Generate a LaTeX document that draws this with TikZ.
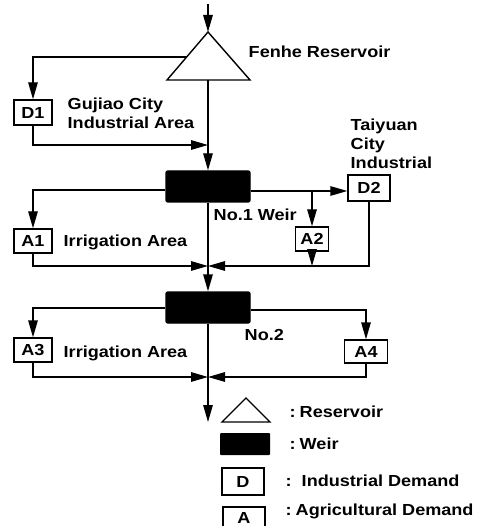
\documentclass[tikz,border=0pt]{standalone}
\usepackage{fontspec}
\setmainfont{Liberation Sans}[FakeStretch=1.13]
\usetikzlibrary{arrows.meta}
\begin{document}
\begin{tikzpicture}[x=1pt,y=-1pt,
  line width=1.4pt,
  arr/.style={-{Triangle[length=17pt,width=9.5pt]}},
  box/.style={draw,line width=1.4pt,inner sep=0pt,font=\bfseries\fontsize{16}{18}\selectfont},
  weir/.style={fill=black,draw=black,rounded corners=2pt,minimum width=84pt,minimum height=31pt,inner sep=0pt},
  lbl/.style={font=\bfseries\fontsize{16}{19}\selectfont,inner sep=0pt,anchor=west,align=left},
  leg/.style={font=\bfseries\fontsize{16}{19}\selectfont,inner sep=0pt,anchor=west}]
\useasboundingbox (0,0) rectangle (479,526);

% reservoir
\coordinate (src) at (208,4);
\coordinate (apex) at (208,32);
\coordinate (bl) at (167,80);
\coordinate (br) at (250,80);
\coordinate (bc) at (208,80);
\coordinate (tl) at (187,57);
\draw[line join=miter] (apex) -- (bl) -- (br) -- cycle;
\draw[arr] (src) -- (apex);

% boxes
\node[box,minimum width=38pt,minimum height=25pt] (D1) at (33,112.5) {D1};
\node[box,minimum width=38pt,minimum height=24pt] (A1) at (33,241) {A1};
\node[box,minimum width=38pt,minimum height=24pt] (A3) at (33,350) {A3};
\node[box,minimum width=42pt,minimum height=26pt] (D2) at (369,188) {D2};
\node[box,minimum width=33pt,minimum height=24pt] (A2) at (312,239) {A2};
\node[box,minimum width=43pt,minimum height=23pt] (A4) at (366,351.5) {A4};

% weirs
\node[weir] (W1) at (208,186.5) {};
\node[weir] (W2) at (208,307.5) {};

% junctions
\coordinate (J1) at (208,266);
\coordinate (J2) at (208,377);
\coordinate (out) at (208,422);
\coordinate (B2) at (312,191);

% connectors upper
\draw[arr] (tl) -| (D1.north);
\draw[arr] (D1.south) |- (J1 |- 0,145);
\draw[arr] (bc) -- (W1.north);
\draw[arr] ([yshift=-3.5pt]W1.west) -| (A1.north);
\draw[arr] (A1.south) |- (J1);
\draw (W1.south) -- (J1);
\draw[arr] (J1) -- (W2.north);
\draw[arr] ([yshift=-4.5pt]W1.east) -- (D2.west |- B2);
\draw[arr] (B2) -- (A2.north);
\draw[arr] (A2.south) -- (A2 |- J1);
\draw[arr] (D2.south) |- (J1);

% connectors lower
\draw[arr] ([yshift=-0.5pt]W2.west) -| (A3.north);
\draw[arr] (A3.south) |- (J2);
\draw[arr] ([yshift=-2.5pt]W2.east) -| (A4.north);
\draw[arr] (A4.south) |- (J2);
\draw[arr] (W2.south) -- (out);

% labels
\node[lbl] (tFen) at (248,52) {Fenhe Reservoir};
\node[lbl] (tGuj) at (67,113) {Gujiao City\\Industrial Area};
\node[lbl,align=left] (tTai) at (350,144) {Taiyuan\\City\\Industrial};
\node[lbl] (tNo1) at (213,215) {No.1 Weir};
\node[lbl] (tIrr1) at (63,242) {Irrigation Area};
\node[lbl] (tNo2) at (244,335) {No.2};
\node[lbl] (tIrr2) at (63,353) {Irrigation Area};

% legend
\coordinate (la) at (246,398);
\coordinate (lb) at (222,422);
\coordinate (lc) at (270,422);
\draw[line join=miter] (la) -- (lb) -- (lc) -- cycle;
\node[fill=black,rounded corners=1pt,minimum width=50pt,minimum height=22pt,inner sep=0pt] (lw) at (245,444) {};
\node[box,minimum width=42pt,minimum height=27pt] (ld) at (243,481.5) {D};
\draw (223,527) |- (265,507) -- (265,527);
\node[font=\bfseries\fontsize{16}{18}\selectfont,inner sep=0pt] (lA) at (244,518) {A};
\node[leg] (tR) at (289,412) {:\hspace{4pt}Reservoir};
\node[leg] (tW) at (289,444) {:\hspace{4pt}Weir};
\node[leg] (tD) at (285,481) {:\hspace{10pt}Industrial Demand};
\node[leg] (tA) at (285,511) {:\hspace{4pt}Agricultural Demand};
\end{tikzpicture}
\end{document}
